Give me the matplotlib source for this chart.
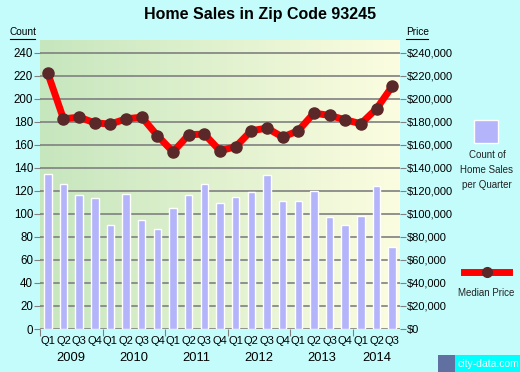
import matplotlib
matplotlib.use("Agg")
import matplotlib.pyplot as plt
import numpy as np
from matplotlib.patches import Rectangle
from matplotlib.lines import Line2D

plt.rcParams['font.family'] = ['Liberation Sans', 'DejaVu Sans']

quarters = ["Q1", "Q2", "Q3", "Q4"] * 5 + ["Q1", "Q2", "Q3"]
years = ["2009", "2010", "2011", "2012", "2013", "2014"]
year_centers = [1.5, 5.5, 9.5, 13.5, 17.5, 21.0]
counts = [135, 126, 116, 114, 90, 117, 95, 87, 105, 116, 126, 109,
          115, 119, 134, 111, 111, 120, 97, 90, 98, 124, 71]
prices = [222000, 182500, 184000, 179000, 178000, 182500, 184000, 168000,
          153800, 168700, 169300, 154800, 158300, 172200, 174500, 166700,
          172200, 187500, 185500, 181700, 178300, 191300, 210700]
count_ticks = list(range(0, 241, 20))
price_ticks = list(range(0, 240001, 20000))

W, H = 520, 372
fig = plt.figure(figsize=(W / 100, H / 100), dpi=100)
bg = "#c4fcfc"
fig.patch.set_facecolor(bg)

L, R, T, B = 40, 400, 40, 329
ax = fig.add_axes([L / W, (H - B) / H, (R - L) / W, (B - T) / H])
n = len(counts)
x = np.arange(n)
ax.set_xlim(-0.5, n - 0.5)
ax.set_ylim(0, 251)

# gradient background
c0 = np.array([198, 230, 190]) / 255
c1 = np.array([252, 253, 224]) / 255
t = np.linspace(0, 1, 256)
grad = (c0[None, :] * (1 - t[:, None]) + c1[None, :] * t[:, None])[None, :, :]
ax.imshow(grad, extent=[-0.5, n - 0.5, 0, 251], aspect='auto', zorder=0)

for s in ax.spines.values():
    s.set_visible(False)

ax.set_yticks(count_ticks)
ax.set_yticklabels([str(v) for v in count_ticks], fontsize=8.3)
ax.tick_params(axis='y', length=4, color='#808080', pad=1)
for v in count_ticks:
    ax.axhline(v, color='#808080', lw=1.2, zorder=1)

ax.bar(x, counts, width=0.48, color='#b4b4fa', edgecolor='white', lw=1, zorder=2)

# x ticks at year boundaries
ax.set_xticks(np.arange(-0.5, n, 4))
ax.set_xticklabels([])
ax.tick_params(axis='x', length=5, color='#808080')
for i, q in enumerate(quarters):
    ax.text(i, -6, q, ha='center', va='top', fontsize=8)
for yl, xc in zip(years, year_centers):
    ax.text(xc, -20, yl, ha='center', va='top', fontsize=9.3)

ax2 = ax.twinx()
ax2.set_ylim(0, 251000)
for s in ax2.spines.values():
    s.set_visible(False)
ax2.set_yticks(price_ticks)
ax2.set_yticklabels(["${:,}".format(v) for v in price_ticks], fontsize=8)
ax2.tick_params(axis='y', length=4, color='#808080', pad=1)
ax2.plot(x, prices, color='#ff0000', lw=5, zorder=3, solid_joinstyle='round')
ax2.plot(x, prices, 'o', color='#5a2828', ms=8, zorder=4)

fig.text(260 / W, 1 - 14 / H, "Home Sales in Zip Code 93245", ha='center', va='center',
         fontsize=11.5, fontweight='bold')
fig.text(10 / W, 1 - 32 / H, "Count", ha='left', va='center', fontsize=7.3)
fig.add_artist(Line2D([10 / W, 35 / W], [1 - 38.5 / H, 1 - 38.5 / H], color='black', lw=0.8))
fig.text(406 / W, 1 - 32 / H, "Price", ha='left', va='center', fontsize=7.3)
fig.add_artist(Line2D([406 / W, 428 / W], [1 - 38.5 / H, 1 - 38.5 / H], color='black', lw=0.8))

# legend
fig.add_artist(Rectangle((474 / W, 1 - 143 / H), 24 / W, 23 / H, facecolor='#b4b4fa',
                         edgecolor='white', lw=1, transform=fig.transFigure))
fig.text(487 / W, 1 - 170 / H, "Count of\nHome Sales\nper Quarter", ha='center', va='center',
         fontsize=7, linespacing=1.6, color='#222222')
fig.add_artist(Line2D([464 / W, 509 / W], [1 - 272 / H, 1 - 272 / H], color='#ff0000', lw=5))
fig.add_artist(Line2D([487 / W], [1 - 272 / H], marker='o', color='#5a2828', ms=7))
fig.text(486 / W, 1 - 293 / H, "Median Price", ha='center', va='center', fontsize=7,
         color='#222222')

# watermark
fig.add_artist(Rectangle((438 / W, 0), 82 / W, 17 / H, facecolor='#00ffff', edgecolor='none',
                         transform=fig.transFigure))
fig.add_artist(Rectangle((438 / W, 0), 17 / W, 17 / H, facecolor='#6070a0', edgecolor='none',
                         transform=fig.transFigure))
fig.text(457 / W, 8 / H, "city-data.com", ha='left', va='center', fontsize=7.5, color='white')

fig.savefig("out.png", dpi=100, facecolor=fig.get_facecolor())
